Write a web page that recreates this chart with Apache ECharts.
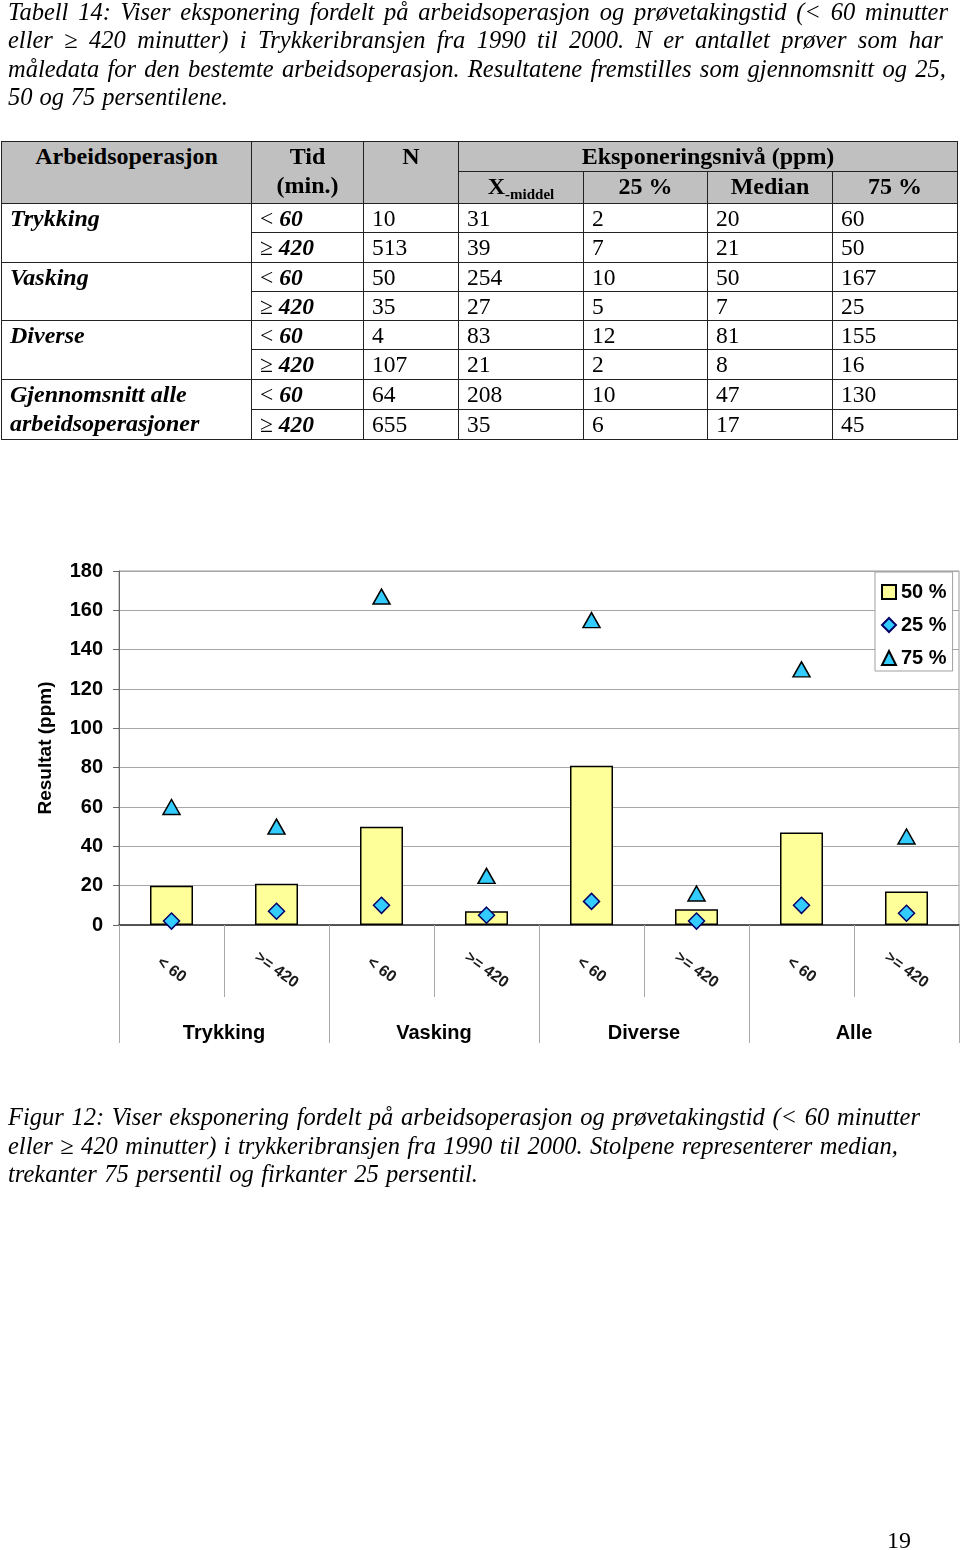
<!DOCTYPE html>
<html>
<head>
<meta charset="utf-8">
<script src="https://cdn.jsdelivr.net/npm/echarts@6/dist/echarts.min.js"></script>
<style>
  html, body { margin: 0; padding: 0; background: #fff; }
  body { width: 960px; height: 1550px; position: relative; overflow: hidden; }
  #chart { position: absolute; left: 0; top: 0; width: 960px; height: 1550px; }
  .line { position: absolute; white-space: nowrap; font-family: "Liberation Serif", "DejaVu Serif", serif; font-style: italic; font-size: 24.5px; line-height: 28px; color: #000; }
  .line span { display: inline-block; transform-origin: 0 50%; }
  #tbl { position: absolute; left: 1px; top: 141px; border-collapse: collapse; table-layout: fixed; font-family: "Liberation Serif", serif; font-size: 23.5px; color: #000; }
  #tbl td, #tbl th { border: 1.6px solid #222; padding: 0 0 0 8px; height: 28.3px; line-height: 28px; vertical-align: top; text-align: left; font-weight: normal; white-space: nowrap; overflow: hidden; }
  #tbl th { background: #c0c0c0; font-weight: bold; text-align: center; padding: 0; height: 27.2px; line-height: 28.5px; font-size: 24px; }
  #tbl th.top { vertical-align: top; }
  #tbl td.op { font-weight: bold; font-style: italic; padding-left: 8px; font-size: 24px; line-height: 29.6px; }
  #tbl .sub { font-size: 15px; position: relative; top: 5px; }
  #page { position: absolute; left: 887px; top: 1526px; font-family: "Liberation Serif", serif; font-size: 24px; line-height: 28px; }
</style>
</head>
<body>
<div id="chart"></div>
<div id="texts"></div>
<table id="tbl"></table>
<div id="page">19</div>
<script>
// ---------- DATA ----------
const captionTop = [
  "Tabell 14: Viser eksponering fordelt på arbeidsoperasjon og prøvetakingstid (< 60 minutter",
  "eller ≥ 420 minutter) i Trykkeribransjen fra 1990 til 2000.  N er antallet prøver som har",
  "måledata for den bestemte arbeidsoperasjon. Resultatene fremstilles som gjennomsnitt og  25,",
  "50 og 75 persentilene."
];
const captionBottom = [
  "Figur 12: Viser eksponering fordelt på arbeidsoperasjon og prøvetakingstid (< 60 minutter",
  "eller ≥ 420 minutter) i trykkeribransjen fra 1990 til 2000. Stolpene representerer median,",
  "trekanter 75 persentil og firkanter 25 persentil."
];
const operations = ["Trykking", "Vasking", "Diverse", "Gjennomsnitt alle|arbeidsoperasjoner"];
const tidLabels = ["< 60", "≥ 420", "< 60", "≥ 420", "< 60", "≥ 420", "< 60", "≥ 420"];
const nValues = [10, 513, 50, 35, 4, 107, 64, 655];
const xMiddel = [31, 39, 254, 27, 83, 21, 208, 35];
const p25 = [2, 7, 10, 5, 12, 2, 10, 6];
const median = [20, 21, 50, 7, 81, 8, 47, 17];
const p75 = [60, 50, 167, 25, 155, 16, 130, 45];
const xLabels = ["< 60", ">= 420", "< 60", ">= 420", "< 60", ">= 420", "< 60", ">= 420"];
const groups = ["Trykking", "Vasking", "Diverse", "Alle"];
const seriesNames = ["50 %", "25 %", "75 %"];

// ---------- TEXT LINES (layout) ----------
const lineLayoutTop = [[8, 13, 940], [8, 41, 940], [8, 70, 940], [8, 98, 220]];
const lineLayoutBottom = [[8, 1118, 912], [8, 1147, 890], [8, 1175, 470]];
const texts = document.getElementById('texts');
function addLines(lines, layout) {
  lines.forEach((t, i) => {
    const [x, cy, w] = layout[i];
    const d = document.createElement('div');
    d.className = 'line';
    d.style.left = x + 'px';
    d.style.top = (cy - 15) + 'px';
    const s = document.createElement('span');
    s.textContent = t;
    d.appendChild(s);
    texts.appendChild(d);
    const nat = s.getBoundingClientRect().width;
    const spaces = (t.match(/ /g) || []).length;
    if (nat < w && spaces > 0) {
      s.style.wordSpacing = ((w - nat) / spaces) + 'px';
    } else if (nat > w) {
      s.style.transform = 'scaleX(' + (w / nat) + ')';
    }
  });
}
addLines(captionTop, lineLayoutTop);
addLines(captionBottom, lineLayoutBottom);

// ---------- TABLE ----------
function tidHtml(t) {
  const [sym, num] = t.split(' ');
  return sym + ' <b><i>' + num + '</i></b>';
}
let html = '<colgroup><col style="width:250px"><col style="width:112px"><col style="width:95px"><col style="width:125px"><col style="width:124px"><col style="width:125px"><col style="width:125px"></colgroup>';
html += '<tr><th rowspan="2" class="top">Arbeidsoperasjon</th><th rowspan="2" class="top">Tid<br>(min.)</th><th rowspan="2" class="top">N</th><th colspan="4">Eksponeringsnivå (ppm)</th></tr>';
html += '<tr><th>X<span class="sub">-middel</span></th><th>25 %</th><th>Median</th><th>75 %</th></tr>';
for (let i = 0; i < 8; i++) {
  html += '<tr>';
  if (i % 2 === 0) {
    html += '<td rowspan="2" class="op">' + operations[i / 2].split('|').join('<br>') + '</td>';
  }
  html += '<td>' + tidHtml(tidLabels[i]) + '</td>';
  html += '<td>' + nValues[i] + '</td><td>' + xMiddel[i] + '</td><td>' + p25[i] + '</td><td>' + median[i] + '</td><td>' + p75[i] + '</td>';
  html += '</tr>';
}
document.getElementById('tbl').innerHTML = html;

// ---------- CHART ----------
const chart = echarts.init(document.getElementById('chart'), null, { renderer: 'canvas' });
const sans = 'Liberation Sans, Arial, sans-serif';
chart.setOption({
  animation: false,
  backgroundColor: 'transparent',
  grid: { left: 119, top: 571, width: 840, height: 354, show: true, borderColor: '#9a9a9a', borderWidth: 1, containLabel: false },
  legend: {
    orient: 'vertical', left: 875, top: 572,
    itemWidth: 14, itemHeight: 14, itemGap: 13,
    padding: [10, 6, 3, 6],
    backgroundColor: '#fff', borderColor: '#a0a0a0', borderWidth: 1,
    textStyle: { fontSize: 20, fontWeight: 'bold', color: '#000', fontFamily: sans },
    data: [
      { name: seriesNames[0], icon: 'rect' },
      { name: seriesNames[1], icon: 'diamond' },
      { name: seriesNames[2], icon: 'triangle' }
    ]
  },
  xAxis: [
    {
      type: 'category', data: xLabels, position: 'bottom',
      axisLine: { lineStyle: { color: '#333', width: 1.5 } },
      axisTick: { show: true, length: 72, lineStyle: { color: '#a8a8a8' } },
      axisLabel: { interval: 0, rotate: -36, align: 'center', verticalAlign: 'middle', margin: 45, fontSize: 16, fontWeight: 'bold', color: '#1a1a1a', fontFamily: sans },
      splitLine: { show: false }
    },
    {
      type: 'category', data: groups, position: 'bottom', gridIndex: 0,
      axisLine: { show: false },
      axisTick: { show: true, length: 118, lineStyle: { color: '#a8a8a8' } },
      axisLabel: { interval: 0, margin: 108, verticalAlign: 'middle', fontSize: 20, fontWeight: 'bold', color: '#000', fontFamily: sans },
      splitLine: { show: false }
    }
  ],
  yAxis: {
    type: 'value', min: 0, max: 180, interval: 20,
    axisLine: { show: true, lineStyle: { color: '#666' } },
    axisTick: { show: true, length: 6, lineStyle: { color: '#666' } },
    splitLine: { lineStyle: { color: '#a6a6a6' } },
    axisLabel: { margin: 16, fontSize: 20, fontWeight: 'bold', color: '#000', fontFamily: sans },
    name: 'Resultat (ppm)', nameLocation: 'middle', nameGap: 64,
    nameTextStyle: { fontSize: 19, fontWeight: 'bold', color: '#000', fontFamily: sans }
  },
  series: [
    {
      name: seriesNames[0], type: 'bar', data: median, barWidth: 43, xAxisIndex: 0,
      itemStyle: { color: '#FFFF99', borderColor: '#000', borderWidth: 1.5 },
      z: 2
    },
    {
      name: seriesNames[1], type: 'scatter', data: p25, xAxisIndex: 0,
      symbol: 'diamond', symbolSize: [16, 16],
      itemStyle: { color: '#33CCFF', borderColor: '#000066', borderWidth: 1.5, opacity: 1 },
      z: 4
    },
    {
      name: seriesNames[2], type: 'scatter', data: p75, xAxisIndex: 0,
      symbol: 'triangle', symbolSize: [17, 15],
      itemStyle: { color: '#33CCFF', borderColor: '#000', borderWidth: 1.5, opacity: 1 },
      z: 4
    }
  ]
});
</script>
</body>
</html>
